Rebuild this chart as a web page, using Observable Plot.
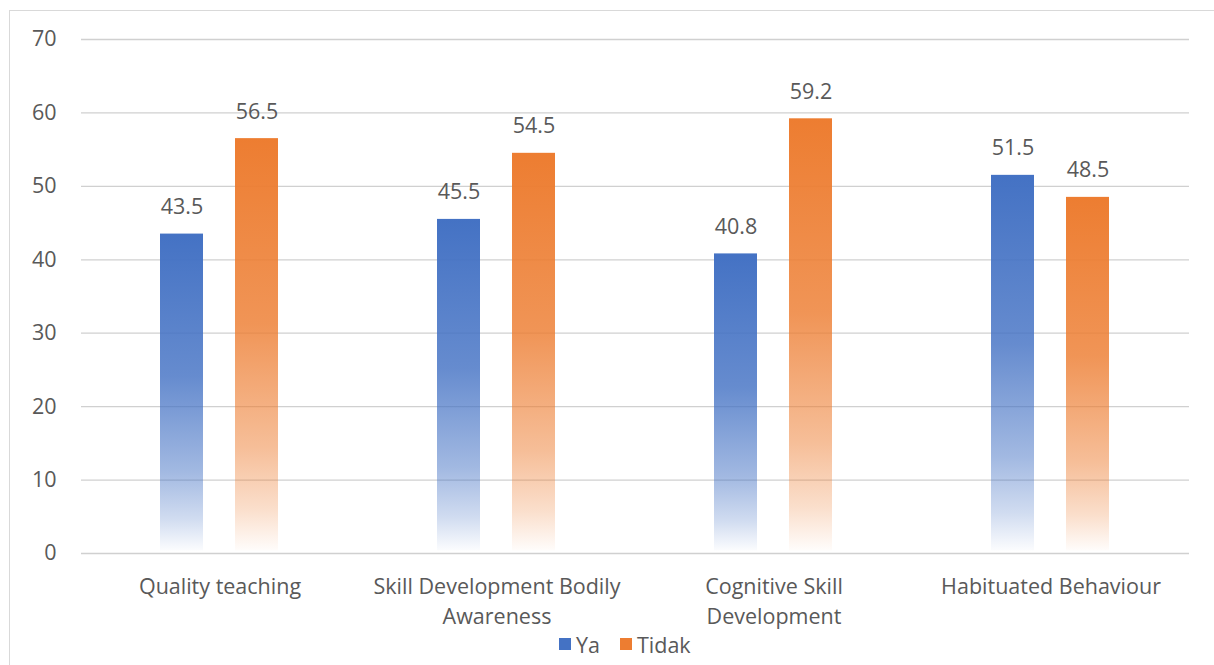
<!DOCTYPE html>
<html>
<head>
<meta charset="utf-8">
<script src="https://cdn.jsdelivr.net/npm/d3@7"></script>
<script src="https://cdn.jsdelivr.net/npm/@observablehq/plot@0.6"></script>
<style>
  html, body { margin: 0; padding: 0; background: #fff; }
  body { width: 1214px; height: 665px; position: relative; overflow: hidden; font-family: "Open Sans", sans-serif; color: #595959; }
  #frame { position: absolute; left: 9px; top: 10px; width: 1300px; height: 800px; border-left: 1px solid #d9d9d9; border-top: 1px solid #d9d9d9; }
  #chart { position: absolute; left: 0; top: 0; }
  #legend { position: absolute; left: 559px; top: 629px; height: 30px; display: flex; align-items: center; font-size: 21.5px; color: #595959; }
  .sw { width: 12px; height: 12px; display: inline-block; margin-right: 5px; }
  .item { display: flex; align-items: center; margin-right: 20px; }
</style>
</head>
<body>
<div id="frame"></div>
<div id="chart"></div>
<div id="legend"></div>
<script>
const categories = ["Quality teaching", "Skill Development Bodily Awareness", "Cognitive Skill Development", "Habituated Behaviour"];
const categoryLabels = ["Quality teaching", "Skill Development Bodily\nAwareness", "Cognitive Skill\nDevelopment", "Habituated Behaviour"];
const series = ["Ya", "Tidak"];
const yaValues = [43.5, 45.5, 40.8, 51.5];
const tidakValues = [56.5, 54.5, 59.2, 48.5];
const yTicks = [0, 10, 20, 30, 40, 50, 60, 70];
const seriesColors = ["#4472C4", "#ED7D31"];
const gradientIds = ["gYa", "gTidak"];

const data = categories.flatMap((c, i) => [
  {category: c, series: "Ya", value: yaValues[i]},
  {category: c, series: "Tidak", value: tidakValues[i]}
]);
const labelOf = new Map(categories.map((c, i) => [c, categoryLabels[i]]));

const FS = 21.5;
const chart = Plot.plot({
  width: 1214,
  height: 632,
  marginLeft: 79,
  marginRight: 24,
  marginTop: 39,
  marginBottom: 79,
  style: {fontFamily: "'Open Sans', sans-serif", fontSize: FS + "px", color: "#595959", background: "transparent"},
  fx: {domain: categories, padding: 0, label: null, axis: null},
  x: {domain: series, paddingInner: 0.421, paddingOuter: 1.038, axis: null},
  y: {domain: [0, 70], axis: null},
  color: {domain: series, range: gradientIds.map(id => `url(#${id})`)},
  marks: [
    Plot.gridY(yTicks, {stroke: "#d0d0d0", strokeOpacity: 1, strokeWidth: 1.3}),
    Plot.barY(data, {fx: "category", x: "series", y1: 0.35, y2: "value", fill: "series"}),
    Plot.text(data, {fx: "category", x: "series", y: "value", text: d => d.value.toFixed(1), lineAnchor: "bottom", dy: -20, fontSize: FS, fill: "#595959"}),
    Plot.axisY({ticks: yTicks, tickSize: 0, tickPadding: 25, label: null, fontSize: FS, fill: "#595959"}),
    Plot.axisFx({anchor: "bottom", tickSize: 0, tickPadding: 19, label: null, tickFormat: c => labelOf.get(c), lineHeight: 1.4, fontSize: FS, fill: "#595959"})
  ]
});

// gradient definitions (fade to white toward bar bottoms)
const ns = "http://www.w3.org/2000/svg";
const defs = document.createElementNS(ns, "defs");
gradientIds.forEach((id, i) => {
  const g = document.createElementNS(ns, "linearGradient");
  g.setAttribute("id", id);
  g.setAttribute("x1", "0"); g.setAttribute("y1", "0");
  g.setAttribute("x2", "0"); g.setAttribute("y2", "1");
  [[0, 1], [0.45, 0.82], [0.75, 0.5], [0.9, 0.25], [1, 0.02]].forEach(([o, a]) => {
    const s = document.createElementNS(ns, "stop");
    s.setAttribute("offset", o);
    s.setAttribute("stop-color", seriesColors[i]);
    s.setAttribute("stop-opacity", a);
    g.appendChild(s);
  });
  defs.appendChild(g);
});
chart.insertBefore(defs, chart.firstChild);
document.getElementById("chart").appendChild(chart);

const legend = document.getElementById("legend");
series.forEach((s, i) => {
  const item = document.createElement("span");
  item.className = "item";
  const sw = document.createElement("span");
  sw.className = "sw";
  sw.style.background = seriesColors[i];
  item.appendChild(sw);
  item.appendChild(document.createTextNode(s));
  legend.appendChild(item);
});
</script>
</body>
</html>
